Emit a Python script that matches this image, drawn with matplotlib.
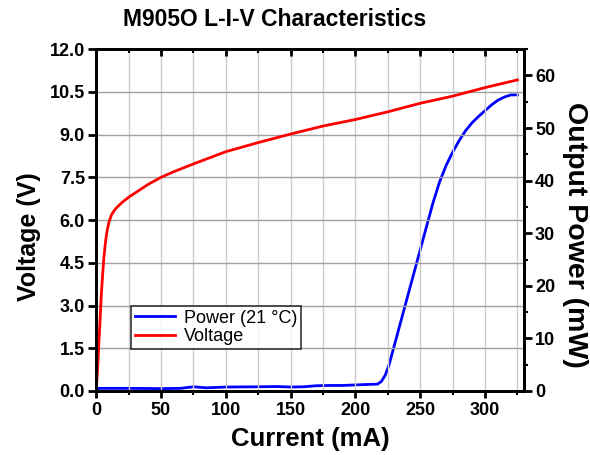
import numpy as np
import matplotlib
matplotlib.use('Agg')
import matplotlib.pyplot as plt
from matplotlib.ticker import MultipleLocator

# data
volt_current = [0, 1, 2, 3, 4, 5, 6, 7, 8, 9, 10, 12, 15, 20, 25, 30, 40, 50, 60, 75,
                100, 125, 150, 175, 200, 225, 250, 275, 300, 325]
voltage = [0.0, 0.7, 1.6, 2.5, 3.4, 4.1, 4.7, 5.15, 5.5, 5.75, 5.95, 6.2, 6.4, 6.62, 6.8, 6.95,
           7.25, 7.5, 7.7, 7.97, 8.4, 8.72, 9.02, 9.3, 9.53, 9.8, 10.1, 10.35, 10.65, 10.92]

pow_current = [0, 25, 50, 65, 75, 85, 100, 125, 140, 150, 160, 170, 180, 190, 200, 210, 217,
               220, 223, 226, 235, 245, 255, 260, 265, 270, 275, 280, 285, 290, 295, 300,
               305, 310, 315, 320, 325]
power = [0.5, 0.5, 0.45, 0.5, 0.8, 0.6, 0.75, 0.8, 0.85, 0.75, 0.8, 1.0, 1.05, 1.05, 1.15,
         1.25, 1.3, 1.8, 3.0, 5.0, 13.2, 22.3, 31.4, 35.9, 39.8, 42.9, 45.4, 47.6, 49.5,
         51.0, 52.2, 53.3, 54.4, 55.3, 55.9, 56.3, 56.3]

plt.rcParams['font.family'] = ['Liberation Sans', 'DejaVu Sans']
plt.rcParams['font.weight'] = 'bold'

fig = plt.figure(figsize=(5.9, 4.55), dpi=100)
ax = fig.add_axes([0.163, 0.1407, 0.725, 0.7513])
ax2 = ax.twinx()

# power first so legend order matches
lp, = ax2.plot(pow_current, power, color='#0000ff', lw=2, label='Power (21 °C)')
lv, = ax.plot(volt_current, voltage, color='#ff0000', lw=2, label='Voltage')
ax.set_zorder(ax2.get_zorder() + 1)
ax.patch.set_visible(False)

ax.set_xlim(0, 330)
ax.set_ylim(0, 12)
ax2.set_ylim(0, 65)

ax.xaxis.set_major_locator(MultipleLocator(50))
ax.xaxis.set_minor_locator(MultipleLocator(25))
ax.yaxis.set_major_locator(MultipleLocator(1.5))
ax.yaxis.set_major_formatter(matplotlib.ticker.FormatStrFormatter('%.1f'))
ax2.yaxis.set_major_locator(MultipleLocator(10))
ax2.yaxis.set_minor_locator(MultipleLocator(5))

ax.grid(True, which='both', axis='x', color='#cccccc', lw=1)
ax.grid(True, which='major', axis='y', color='#a0a0a0', lw=1)

for a in (ax, ax2):
    for s in a.spines.values():
        s.set_linewidth(2)
ax.tick_params(axis='x', which='major', direction='out', length=5, width=2, labelsize=13,
               top=True, pad=3)
ax.tick_params(axis='x', which='minor', direction='out', length=3, width=1.5, top=True)
ax.tick_params(axis='y', which='major', direction='out', length=6, width=2, labelsize=13,
               pad=2)
ax2.tick_params(axis='y', which='major', direction='out', length=6, width=2, labelsize=13,
                pad=2)
ax2.tick_params(axis='y', which='minor', direction='out', length=3, width=1.5)

# top ticks point inward
for t in ax.xaxis.get_major_ticks() + ax.xaxis.get_minor_ticks():
    t.tick2line.set_marker(matplotlib.markers.TICKDOWN)

ax.set_xlabel('Current (mA)', fontsize=18.5, fontweight='bold', labelpad=6)
ax.set_ylabel('Voltage (V)', fontsize=18, fontweight='bold', labelpad=6)
ax2.set_ylabel('Output Power (mW)', fontsize=20.5, fontweight='bold', rotation=270,
               labelpad=24)
ax.yaxis.label.set_y(0.453)
ax2.yaxis.label.set_y(0.456)
fig.text(275 / 590, 1 - 19 / 455, 'M905O L-I-V Characteristics', fontsize=16.5,
         fontweight='bold', ha='center', va='center')

leg = ax.legend(handles=[lp, lv], loc='lower left', bbox_to_anchor=(0.082, 0.123),
                fontsize=13, frameon=True, fancybox=False, edgecolor='black',
                handlelength=2.2, handletextpad=0.5, borderpad=0.2, labelspacing=0.1,
                borderaxespad=0)
leg.get_frame().set_linewidth(1.2)
for t in leg.get_texts():
    t.set_fontweight('normal')

fig.savefig('out.png', dpi=100)
